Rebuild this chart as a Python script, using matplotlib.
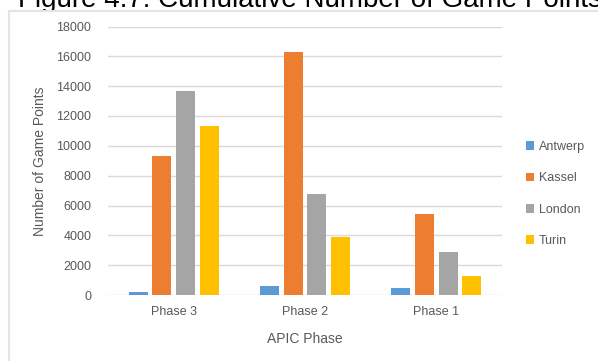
import matplotlib
matplotlib.use("Agg")
import matplotlib.pyplot as plt
from matplotlib.patches import Rectangle
import numpy as np

# Data
phases = ["Phase 3", "Phase 2", "Phase 1"]
cities = ["Antwerp", "Kassel", "London", "Turin"]
antwerp = [200, 600, 450]
kassel = [9300, 16300, 5400]
london = [13700, 6800, 2850]
turin = [11300, 3900, 1300]
y_ticks = [0, 2000, 4000, 6000, 8000, 10000, 12000, 14000, 16000, 18000]

series = [antwerp, kassel, london, turin]
colors = ["#5B9BD5", "#ED7D31", "#A5A5A5", "#FFC000"]

W, H = 598, 361
plt.rcParams["font.family"] = ["Liberation Sans", "DejaVu Sans"]
fig = plt.figure(figsize=(W / 100, H / 100), dpi=100)

# Caption line above the chart (partly hidden behind the chart frame)
fig.text(18 / W, 1 - 7 / H, "Figure 4.7: Cumulative Number of Game Points",
         fontsize=20, color="black", ha="left", va="baseline", zorder=1)

# Chart area frame
frame = Rectangle((9 / W, -0.1), 1.2, 1 - 11 / H + 0.1,
                  transform=fig.transFigure, facecolor="white",
                  edgecolor="#E4E4E4", linewidth=1.5, zorder=2)
fig.patches.append(frame)

left, right, top, bottom = 108, 502, 26.5, 295
ax = fig.add_axes([left / W, 1 - bottom / H, (right - left) / W, (bottom - top) / H])
ax.set_zorder(5)
ax.patch.set_alpha(0)

x = np.arange(len(phases))
step = 0.18
width = 0.145
for i, (vals, col, name) in enumerate(zip(series, colors, cities)):
    ax.bar(x + (i - 1.5) * step, vals, width=width, color=col, label=name, zorder=3)

ax.set_xlim(-0.5, len(phases) - 0.5)
ax.set_ylim(0, 18000)
ax.set_yticks(y_ticks)
ax.set_yticklabels([str(v) for v in y_ticks])
ax.set_xticks(x)
ax.set_xticklabels(phases)
ax.yaxis.grid(True, color="#D9D9D9", linewidth=1.0, zorder=0)
ax.set_axisbelow(True)
for s in ax.spines.values():
    s.set_visible(False)
ax.tick_params(axis="both", length=0, labelsize=9, labelcolor="#595959")
ax.tick_params(axis="y", pad=12)
ax.tick_params(axis="x", pad=8)

ax.set_xlabel("APIC Phase", fontsize=10, color="#595959")
ax.set_ylabel("Number of Game Points", fontsize=10, color="#595959")
ax.xaxis.set_label_coords(0.5, (bottom - 339) / (bottom - top), transform=ax.transAxes)
ax.yaxis.set_label_coords((40 - left) / (right - left), 0.5, transform=ax.transAxes)
ax.xaxis.label.set_va("center")
ax.yaxis.label.set_va("center")

leg = ax.legend(loc="upper left",
                bbox_to_anchor=(526 / W, 1 - 141 / H),
                bbox_transform=fig.transFigure,
                frameon=False, fontsize=9, labelcolor="#595959",
                handlelength=0.6, handleheight=0.7, handletextpad=0.4,
                labelspacing=1.55, borderpad=0, borderaxespad=0)

fig.savefig("out.png", dpi=100)
